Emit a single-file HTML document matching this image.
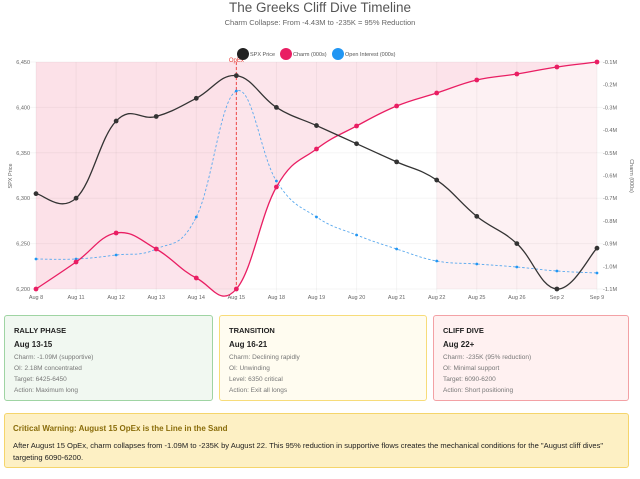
<!DOCTYPE html>
<html><head><meta charset="utf-8"><style>
body{margin:0;width:640px;height:479px;background:#fff;font-family:"Liberation Sans",sans-serif;overflow:hidden;position:relative}
.t{position:absolute;left:0;width:640px;text-align:center;color:#555}
.card{position:absolute;top:315px;height:86px;border:1px solid;border-radius:3px;box-sizing:border-box;padding:8px 9px;font-size:6.5px;color:#777;line-height:11px}
.card b{display:block;color:#222;font-size:7.5px;line-height:13px}
.card .d{font-weight:bold;color:#222;font-size:8px;line-height:15px}
</style></head><body>
<div class="t" style="top:0;font-size:13.5px;color:#555">The Greeks Cliff Dive Timeline</div>
<div class="t" style="top:18px;font-size:7.5px;color:#666">Charm Collapse: From -4.43M to -235K = 95% Reduction</div>
<svg id="s" width="640" height="300" style="position:absolute;left:0;top:0" font-family="Liberation Sans, sans-serif"></svg>
<div class="card" style="left:4px;width:209px;border-color:#9fd4a3;background:#f1f8f1"><b>RALLY PHASE</b><div class="d">Aug 13-15</div>Charm: -1.09M (supportive)<br>OI: 2.18M concentrated<br>Target: 6425-6450<br>Action: Maximum long</div>
<div class="card" style="left:219px;width:208px;border-color:#f7dc7a;background:#fffcf0"><b>TRANSITION</b><div class="d">Aug 16-21</div>Charm: Declining rapidly<br>OI: Unwinding<br>Level: 6350 critical<br>Action: Exit all longs</div>
<div class="card" style="left:433px;width:196px;border-color:#f3a1a5;background:#fff1f1"><b>CLIFF DIVE</b><div class="d">Aug 22+</div>Charm: -235K (95% reduction)<br>OI: Minimal support<br>Target: 6090-6200<br>Action: Short positioning</div>
<div style="position:absolute;left:4px;top:413px;width:625px;height:55px;box-sizing:border-box;border:1px solid #f5d56b;background:#fdf0c4;border-radius:3px;padding:9px 8px;font-size:7.6px;color:#222;line-height:12.5px">
<div style="color:#8a6d0b;font-weight:bold;font-size:8px;margin-bottom:4px">Critical Warning: August 15 OpEx is the Line in the Sand</div>
After August 15 OpEx, charm collapses from -1.09M to -235K by August 22. This 95% reduction in supportive flows creates the mechanical conditions for the "August cliff dives" targeting 6090-6200.</div>
<script>
const X=[],L=["Aug 8","Aug 11","Aug 12","Aug 13","Aug 14","Aug 15","Aug 18","Aug 19","Aug 20","Aug 21","Aug 22","Aug 25","Aug 26","Sep 2","Sep 9"];
for(let i=0;i<15;i++)X.push(36+i*40.07);
const T=62,B=289;
const spxV=[6305,6300,6385,6390,6410,6435,6400,6380,6360,6340,6320,6280,6250,6200,6245];
const spx=spxV.map(v=>T+(6450-v)*227/250);
const ch=[289,262,233,249,278,289,187,149,126,106,93,80,74,67,62];
const oi=[259,259,255,249,217,91,181,217,235,249,261,264,267,271,273];
function path(Y){let d=`M${X[0]},${Y[0]}`;const t=0.2;
for(let i=0;i<Y.length-1;i++){const p0=i?i-1:i,p3=i+2<Y.length?i+2:i+1;
const c1x=X[i]+(X[i+1]-X[p0])*t,c1y=Y[i]+(Y[i+1]-Y[p0])*t,c2x=X[i+1]-(X[p3]-X[i])*t,c2y=Y[i+1]-(Y[p3]-Y[i])*t;
d+=` C${c1x},${c1y} ${c2x},${c2y} ${X[i+1]},${Y[i+1]}`;}return d;}
let s='';
s+=`<rect x="${X[0]}" y="${T}" width="${X[5]-X[0]}" height="${B-T}" fill="#fce4ec"/>`;
s+=`<rect x="${X[10]}" y="${T}" width="${X[14]-X[10]}" height="${B-T}" fill="#fdf1f3"/>`;
s+=`<path d="${path(ch)} L${X[14]},${T} L${X[0]},${T}Z" fill="#fbe0e8" opacity="0.85"/>`;
for(let i=0;i<15;i++)s+=`<line x1="${X[i]}" x2="${X[i]}" y1="${T}" y2="${B+4}" stroke="#000" stroke-opacity="0.04"/>`;
for(let k=0;k<=5;k++){const y=T+k*45.4;s+=`<line x1="30" x2="603" y1="${y}" y2="${y}" stroke="#000" stroke-opacity="0.04"/><text x="30" y="${y+2}" font-size="5.5" fill="#666" text-anchor="end">${(6450-k*50).toLocaleString('en-US')}</text>`;}
for(let k=0;k<=10;k++){const y=T+k*22.7;s+=`<text x="603" y="${y+2}" font-size="5.5" fill="#666">-${k<9?'0.'+(k+1):(k==9?'1.0':'1.1')}M</text>`;}
L.forEach((l,i)=>s+=`<text x="${X[i]}" y="299" font-size="5.5" fill="#666" text-anchor="middle">${l}</text>`);
s+=`<text transform="translate(12,176) rotate(-90)" font-size="5.5" fill="#666" text-anchor="middle">SPX Price</text>`;
s+=`<text transform="translate(630,176) rotate(90)" font-size="5.5" fill="#666" text-anchor="middle">Charm (000s)</text>`;
s+=`<line x1="${X[5]}" x2="${X[5]}" y1="${T}" y2="${B}" stroke="#f04848" stroke-dasharray="3,2"/><text x="${X[5]}" y="62" font-size="6" fill="#e53935" text-anchor="middle">OpEx</text>`;
s+=`<path d="${path(oi)}" fill="none" stroke="#5aa9ee" stroke-width="0.9" stroke-dasharray="2.5,2"/>`;
s+=`<path d="${path(ch)}" fill="none" stroke="#e91e63" stroke-width="1.3"/>`;
s+=`<path d="${path(spx)}" fill="none" stroke="#333" stroke-width="1.3"/>`;
for(let i=0;i<15;i++){s+=`<circle cx="${X[i]}" cy="${oi[i]}" r="1.4" fill="#2196f3"/><circle cx="${X[i]}" cy="${ch[i]}" r="2.4" fill="#e91e63"/><circle cx="${X[i]}" cy="${spx[i]}" r="2.4" fill="#333"/>`;}
s+=`<circle cx="243" cy="54" r="6" fill="#222"/><text x="250" y="56" font-size="5.5" fill="#555">SPX Price</text>`;
s+=`<circle cx="286" cy="54" r="6" fill="#e91e63"/><text x="293" y="56" font-size="5.5" fill="#555">Charm (000s)</text>`;
s+=`<circle cx="338" cy="54" r="6" fill="#2196f3"/><text x="345" y="56" font-size="5.5" fill="#555">Open Interest (000s)</text>`;
document.getElementById('s').innerHTML=s;
</script>
</body></html>
